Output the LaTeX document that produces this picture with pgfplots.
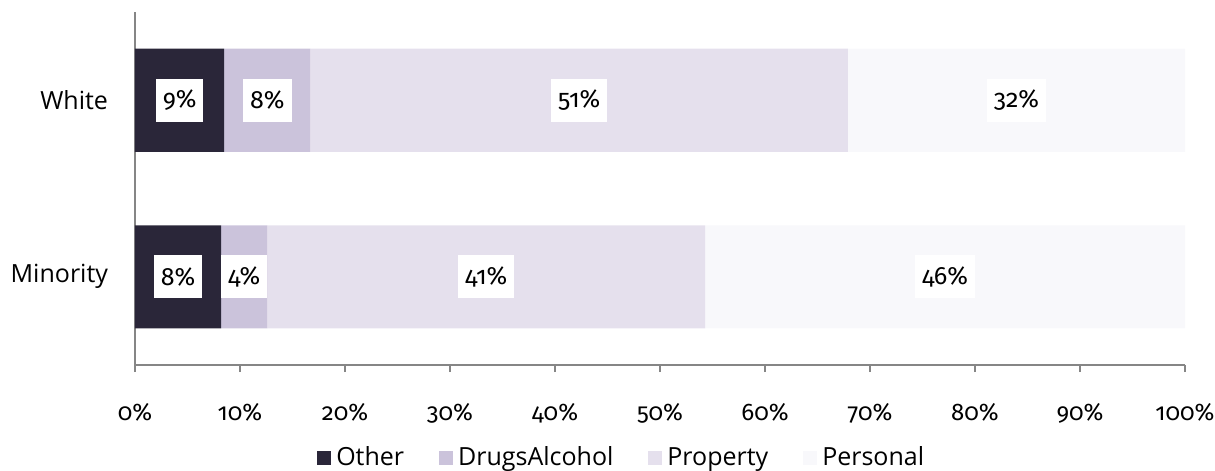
\documentclass[border=0pt]{standalone}
\usepackage{pgfplots}
\pgfplotsset{compat=1.18}
\usepackage{fontspec}
\setmainfont{Open Sans}
\newfontfamily\numfont[Numbers=OldStyle]{Fira Sans}
\definecolor{cOther}{HTML}{2A2639}
\definecolor{cDrugs}{HTML}{CBC3DB}
\definecolor{cProp}{HTML}{E5E0ED}
\definecolor{cPers}{HTML}{F8F8FB}
\definecolor{axisgray}{HTML}{868686}
\begin{document}
\begin{tikzpicture}
\path[use as bounding box] (-67.5bp,-53bp) rectangle (540bp,182.5bp);
\begin{axis}[
  at={(0,0)}, anchor=south west,
  scale only axis, width=525bp, height=176.5bp,
  xbar stacked, bar width=51.5bp,
  xmin=0, xmax=100, ymin=-0.5, ymax=1.5,
  axis x line*=bottom, axis y line*=left,
  axis line style={draw=axisgray, line width=0.75bp},
  xtick={0,10,20,30,40,50,60,70,80,90,100},
  xticklabels={0\%,10\%,20\%,30\%,40\%,50\%,60\%,70\%,80\%,90\%,100\%},
  xtick align=outside, major tick length=3.5bp,
  xtick style={draw=axisgray, line width=0.75bp},
  ytick={0,1}, yticklabels={Minority,White},
  ytick style={draw=none},
  xticklabel style={font=\numfont\fontsize{12bp}{14bp}\selectfont, anchor=base, yshift=-24bp},
  yticklabel style={font=\fontsize{12.5bp}{15bp}\selectfont, xshift=-10bp},
  legend style={at={(0.464,-0.263)}, anchor=center, draw=none, legend columns=4,
    font=\fontsize{12.5bp}{15bp}\selectfont,
    nodes={inner xsep=1.5bp},
    /tikz/every odd column/.append style={column sep=1bp},
    /tikz/every even column/.append style={column sep=16bp}},
  legend image code/.code={\fill[#1] (0bp,-3.5bp) rectangle (7bp,3.5bp);},
]
\addplot[fill=cOther, draw=none] coordinates {(8.2,0) (8.5,1)};
\addplot[fill=cDrugs, draw=none] coordinates {(4.4,0) (8.2,1)};
\addplot[fill=cProp, draw=none] coordinates {(41.7,0) (51.2,1)};
\addplot[fill=cPers, draw=none] coordinates {(45.7,0) (32.1,1)};
\legend{Other,DrugsAlcohol,Property,Personal}
\end{axis}
\begin{axis}[
  at={(0,0)}, anchor=south west,
  scale only axis, width=525bp, height=176.5bp,
  xmin=0, xmax=100, ymin=-0.5, ymax=1.5,
  hide axis, clip=false,
]
\addplot[draw=none, mark=none, forget plot,
  nodes near coords={\pgfplotspointmeta\%},
  point meta=explicit symbolic,
  every node near coord/.style={fill=white, text=black, anchor=center,
    inner xsep=3.5bp, inner ysep=0pt, minimum height=21.5bp,
    font=\numfont\fontsize{12.5bp}{14bp}\selectfont}]
  table[meta=lab] {
x y lab
4.25 1 9
12.6 1 8
42.3 1 51
83.95 1 32
4.1 0 8
10.4 0 4
33.45 0 41
77.15 0 46
};
\end{axis}
\end{tikzpicture}
\end{document}
